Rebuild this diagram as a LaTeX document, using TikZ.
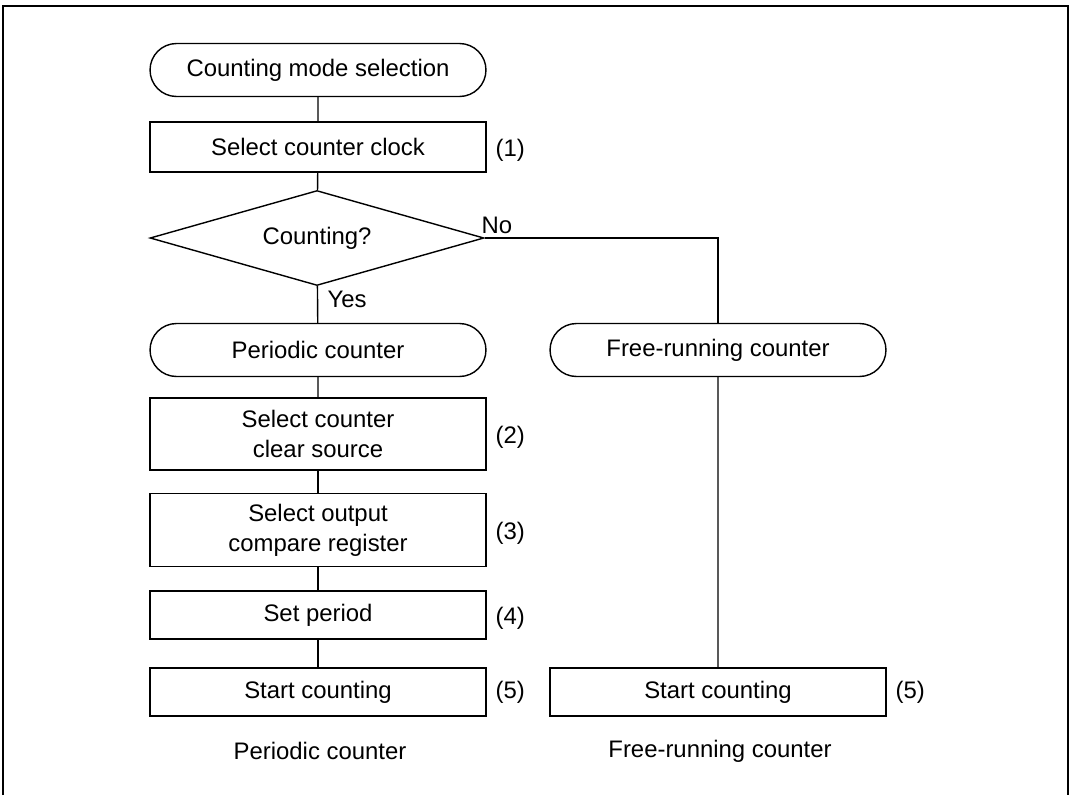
\documentclass[tikz,border=0pt]{standalone}
\usepackage{fontspec}
\setmainfont{Liberation Sans}
\usepackage{tikz}
\usetikzlibrary{arrows.meta, positioning, shapes.geometric, shapes.misc}

\begin{document}
\begin{tikzpicture}[x=0.02cm, y=-0.02cm, line width=0.8pt,
    every node/.style={font=\fontsize{13.6}{17}\selectfont},
    term/.style={draw, rounded rectangle, minimum width=6.72cm, minimum height=1.06cm, inner sep=0pt},
    proc/.style={draw, rectangle, minimum width=6.72cm, inner sep=0pt, align=center},
    dec/.style={draw, diamond, aspect=3.5, minimum width=6.68cm, minimum height=1.9cm, inner sep=0pt}]
        \useasboundingbox (0,0) rectangle (1074,795);
        % frame
        \draw[line width=1.1pt] (3,795) -- (3,6) -- (1068,6) -- (1068,795);

        % left column
        \node[term] (start) at (318,70) {Counting mode selection};
        \node[proc, minimum height=1.0cm] (clock) at (318,147) {Select counter clock};
        \node[dec] (ask) at (317,238) {Counting?};
        \node[term] (periodic) at (318,350) {Periodic counter};
        \node[proc, minimum height=1.44cm] (clear) at (318,434) {Select counter\\clear source};
        \node[proc, minimum height=1.46cm] (cmp) at (318,530) {Select output\\compare register};
        \node[proc, minimum height=0.96cm] (period) at (318,615) {Set period};
        \node[proc, minimum height=0.96cm] (run) at (318,692) {Start counting};

        % right column
        \node[term] (free) at (718,350) {Free-running counter};
        \node[proc, minimum height=0.96cm] (frun) at (718,692) {Start counting};

        % lines
        \draw (start) -- (clock);
        \draw (clock) -- (ask);
        \draw (ask) -- (periodic);
        \draw (ask.east) -| (free.north);
        \draw (free) -- (frun);
        \draw (periodic) -- (clear);
        \draw (clear) -- (cmp);
        \draw (cmp) -- (period);
        \draw (period) -- (run);

        % branch labels
        \node (no) at (497,225) {No};
        \node (yes) at (347,299) {Yes};

        % step numbers
        \node[anchor=west] (n1) at (489,150) {(1)};
        \node[anchor=west] (n2) at (489,437) {(2)};
        \node[anchor=west] (n3) at (489,533) {(3)};
        \node[anchor=west] (n4) at (489,618) {(4)};
        \node[anchor=west] (n5) at (489,692) {(5)};
        \node[anchor=west] (m5) at (889,692) {(5)};

        % captions
        \node (cap1) at (320,751) {Periodic counter};
        \node (cap2) at (720,751) {Free-running counter};
    \end{tikzpicture}
\end{document}
